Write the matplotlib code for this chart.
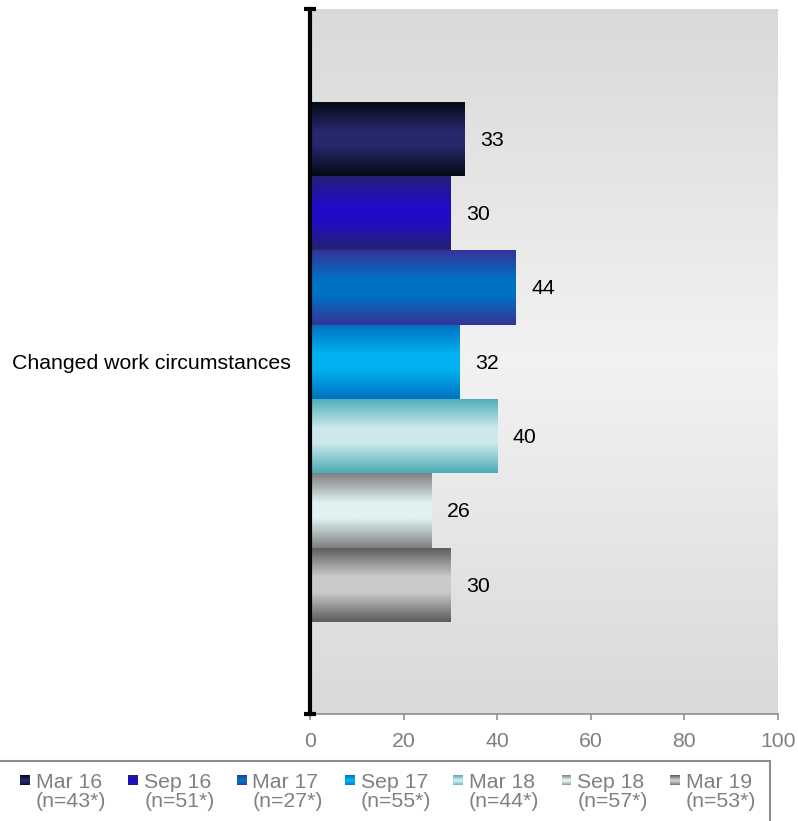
import numpy as np
import matplotlib.pyplot as plt
from matplotlib.colors import LinearSegmentedColormap
from matplotlib.patches import Rectangle
from matplotlib.legend_handler import HandlerBase

plt.rcParams['font.family'] = ['Liberation Sans', 'DejaVu Sans']

category = 'Changed work circumstances'
waves = ['Mar 16', 'Sep 16', 'Mar 17', 'Sep 17', 'Mar 18', 'Sep 18', 'Mar 19']
sample_n = [43, 51, 27, 55, 44, 57, 53]
values = [33, 30, 44, 32, 40, 26, 30]
xticks = [0, 20, 40, 60, 80, 100]

# gradient colours per wave: colour at bar edges, colour in the middle
edge_cols = ['#040914', '#252271', '#363399', '#0070c0', '#4aacb5', '#7f7f7f', '#5a5a5a']
mid_cols = ['#26276c', '#200cc8', '#0072c2', '#00b2f0', '#cde9ed', '#e0f3f3', '#cbcbcb']

FS = 15.3


def grad_cmap(e, m):
    return LinearSegmentedColormap.from_list('g', [(0, e), (0.4, m), (0.6, m), (1, e)])


class GradHandle(HandlerBase):
    def __init__(self, e, m):
        super().__init__()
        self.cmap = grad_cmap(e, m)

    def create_artists(self, legend, orig_handle, xdescent, ydescent, width, height, fontsize, trans):
        size = 0.47 * fontsize
        x0 = -xdescent
        y0 = -ydescent + height / 2 - size / 2 + 0.55 * fontsize
        n = 12
        arts = []
        for k in range(n):
            r = Rectangle((x0, y0 + size * (n - 1 - k) / n), size, size / n,
                          facecolor=self.cmap((k + 0.5) / n), edgecolor='none', transform=trans)
            arts.append(r)
        return arts


fig = plt.figure(figsize=(7.98, 8.21), dpi=100)
ax = fig.add_axes([310 / 798, 1 - 714 / 821, 468 / 798, 705 / 821])

# background gradient
bg_cmap = LinearSegmentedColormap.from_list('bg', ['#d9d9d9', '#f2f2f2', '#d9d9d9'])
ax.imshow(np.linspace(0, 1, 256)[:, None], cmap=bg_cmap, extent=[0, 1, 0, 1],
          transform=ax.transAxes, aspect='auto', zorder=0)

pos = np.arange(len(values))
bars = ax.barh(pos, values, height=1.0, color='none', edgecolor='none', zorder=2)
for b, e, m, v in zip(bars, edge_cols, mid_cols, values):
    x0, y0, w, h = b.get_x(), b.get_y(), b.get_width(), b.get_height()
    im = ax.imshow(np.linspace(0, 1, 256)[:, None], cmap=grad_cmap(e, m),
                   extent=[x0, x0 + w, y0 + h, y0], aspect='auto',
                   interpolation='bilinear', zorder=2)
    im.set_clip_path(b)
    ax.annotate(str(v), (x0 + w, y0 + h / 2), xytext=(11, -1), textcoords='offset points',
                ha='left', va='center', fontsize=FS, color='black')

ax.set_xlim(0, 100)
ax.set_ylim(len(values) - 0.5 + 1.24, -0.5 - 1.25)

for s in ['top', 'right']:
    ax.spines[s].set_visible(False)
ax.spines['left'].set_color('black')
ax.spines['left'].set_linewidth(3)
ax.spines['left'].set_zorder(3)
ax.spines['bottom'].set_color('#878787')
ax.spines['bottom'].set_linewidth(1.1)
ax.plot([0, 0], [0, 1], transform=ax.transAxes, marker='_', ms=9, mew=3,
        color='black', linestyle='none', clip_on=False, zorder=4)

ax.set_xticks(xticks)
ax.tick_params(axis='x', color='#878787', labelcolor='#808080', length=4.5,
               width=1.1, pad=8.2, labelsize=FS)
ax.set_yticks([pos.mean()])
ax.set_yticklabels([category])
ax.tick_params(axis='y', length=0, pad=13.7, labelsize=FS, labelcolor='black')

handles = [Rectangle((0, 0), 1, 1) for _ in waves]
labels = [f'{w}\n(n={n}*)' for w, n in zip(waves, sample_n)]
hmap = {h: GradHandle(e, m) for h, e, m in zip(handles, edge_cols, mid_cols)}
leg = fig.legend(handles, labels, handler_map=hmap, loc='upper left',
                 bbox_to_anchor=(20 / 798, 1 - 773 / 821), ncol=7, frameon=False,
                 fontsize=FS, handlelength=0.47, handleheight=0.7, handletextpad=0.28,
                 columnspacing=1.03, borderpad=0, borderaxespad=0, labelcolor='#808080')
for t in leg.get_texts():
    t.set_linespacing(1.0)

# legend frame, partly cut off at the left and bottom of the image
fig.add_artist(Rectangle((-5 / 798, -10 / 821), 775 / 798, 70 / 821,
                         transform=fig.transFigure, fill=False, edgecolor='#8c8c8c', lw=1.5))

fig.savefig('out.png', dpi=100)
